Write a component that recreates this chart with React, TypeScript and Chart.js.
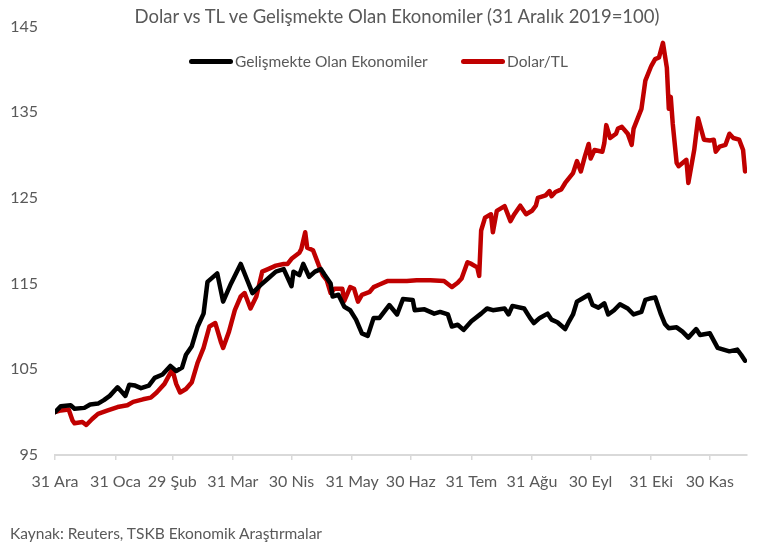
import React, { useEffect, useRef } from "react";
import { Chart, registerables } from "chart.js";

Chart.register(...registerables);

// X axis: day offsets from 31 Dec 2019 for month-end ticks
const monthEndDays = [0, 31, 60, 91, 121, 152, 182, 213, 244, 274, 305, 335];
const monthLabels = ["31 Ara", "31 Oca", "29 Şub", "31 Mar", "30 Nis", "31 May", "30 Haz", "31 Tem", "31 Ağu", "30 Eyl", "31 Eki", "30 Kas"];
const yTickValues = [95, 105, 115, 125, 135, 145];

const chartTitle = "Dolar vs TL ve Gelişmekte Olan Ekonomiler (31 Aralık 2019=100)";
const seriesNames = ["Gelişmekte Olan Ekonomiler", "Dolar/TL"];
const sourceText = "Kaynak: Reuters, TSKB Ekonomik Araştırmalar";

// Gelişmekte Olan Ekonomiler (day offset, index value)
const emDays = [0, 3, 8, 10, 15, 18, 22, 25, 28, 32, 34, 36, 38, 41, 44, 48, 51, 55, 59, 62, 65, 67, 70, 73, 76, 78, 83, 86, 90, 95, 98, 101, 105, 109, 113, 117, 121, 122, 125, 127, 130, 133, 136, 138, 141, 142, 145, 148, 151, 154, 157, 160, 163, 166, 171, 175, 178, 183, 184, 189, 194, 197, 201, 203, 206, 209, 213, 218, 221, 224, 230, 232, 234, 240, 243, 245, 248, 252, 254, 257, 261, 263, 265, 267, 270, 273, 275, 278, 281, 283, 286, 289, 293, 296, 300, 302, 305, 307, 310, 312, 314, 318, 321, 324, 328, 330, 335, 339, 342, 345, 349, 351, 353];
const emValues = [100.0, 100.7, 100.8, 100.4, 100.5, 100.9, 101.0, 101.4, 101.9, 102.9, 102.4, 101.9, 103.2, 103.1, 102.8, 103.1, 104.0, 104.4, 105.4, 104.8, 105.2, 106.7, 107.7, 110.0, 111.5, 115.2, 116.2, 112.9, 115.0, 117.3, 115.6, 113.9, 114.8, 115.6, 116.4, 116.7, 114.7, 116.4, 116.0, 117.3, 115.8, 116.4, 116.7, 116.0, 115.0, 113.5, 113.7, 112.3, 111.9, 110.8, 109.2, 108.9, 111.0, 111.0, 112.5, 111.4, 113.2, 113.1, 111.9, 112.0, 111.5, 111.7, 111.4, 110.0, 110.2, 109.6, 110.6, 111.5, 112.1, 111.9, 112.1, 111.4, 112.4, 112.1, 111.0, 110.4, 111.0, 111.5, 110.8, 110.5, 109.7, 110.6, 111.4, 112.9, 113.3, 113.7, 112.5, 112.2, 112.7, 111.4, 111.9, 112.6, 112.1, 111.4, 111.7, 113.1, 113.3, 113.4, 111.4, 110.3, 109.8, 109.9, 109.4, 108.7, 109.7, 109.0, 109.2, 107.5, 107.3, 107.1, 107.3, 106.7, 106.0];

// Dolar/TL (day offset, index value)
const usdDays = [0, 3, 7, 9, 10, 14, 16, 19, 22, 27, 32, 37, 40, 45, 49, 52, 56, 60, 62, 64, 67, 70, 73, 76, 79, 82, 85, 86, 89, 92, 95, 97, 100, 103, 106, 109, 113, 117, 119, 121, 125, 126, 128, 129, 132, 135, 137, 139, 141, 143, 147, 148, 151, 153, 155, 157, 161, 163, 166, 170, 175, 180, 185, 192, 199, 203, 206, 208, 211, 213, 216, 217, 218, 220, 223, 224, 226, 230, 233, 235, 238, 241, 244, 246, 247, 251, 253, 254, 256, 259, 261, 265, 267, 269, 271, 273, 274, 276, 280, 281, 282, 284, 287, 288, 290, 293, 295, 296, 300, 302, 305, 307, 309, 311, 313, 314, 315, 316, 318, 319, 323, 324, 327, 329, 332, 335, 337, 338, 340, 343, 345, 347, 350, 352, 353];
const usdValues = [100.0, 100.2, 100.3, 99.0, 98.7, 98.85, 98.5, 99.2, 99.8, 100.2, 100.6, 100.8, 101.2, 101.5, 101.7, 102.3, 103.3, 105.0, 103.3, 102.3, 102.7, 103.5, 105.8, 107.5, 110.0, 110.4, 108.1, 107.5, 109.4, 111.9, 113.5, 113.9, 112.1, 113.5, 116.4, 116.7, 117.1, 117.3, 117.3, 117.9, 118.6, 119.05, 121.0, 119.2, 118.9, 117.1, 116.0, 115.4, 113.9, 114.4, 114.4, 113.0, 114.6, 114.4, 112.9, 113.7, 114.05, 114.6, 114.9, 115.3, 115.3, 115.3, 115.4, 115.4, 115.3, 114.6, 115.1, 115.6, 117.5, 117.3, 116.9, 115.9, 121.2, 122.7, 123.1, 121.0, 123.5, 124.05, 122.3, 123.1, 124.1, 123.1, 123.5, 124.1, 125.0, 125.3, 125.8, 125.2, 125.7, 126.0, 126.75, 127.9, 129.3, 128.1, 129.8, 131.3, 129.6, 130.6, 130.4, 131.4, 133.5, 132.0, 132.5, 133.1, 133.3, 132.5, 131.2, 133.1, 135.4, 138.7, 140.4, 141.2, 141.4, 143.1, 140.2, 135.4, 136.8, 133.7, 129.1, 128.7, 129.45, 126.75, 130.6, 134.3, 131.8, 131.7, 131.8, 130.4, 131.0, 131.2, 132.5, 132.0, 131.8, 130.6, 128.1];

const seriesColors = ["#000000", "#c00000"];
const textColor = "#595959";
const fontFamily = 'Lato, "Noto Sans", sans-serif';

export default function App() {
  const canvasRef = useRef<HTMLCanvasElement | null>(null);

  useEffect(() => {
    if (!canvasRef.current) return;
    const chart = new Chart(canvasRef.current, {
      type: "line",
      data: {
        datasets: [
          {
            label: seriesNames[0],
            data: emDays.map((d, i) => ({ x: d, y: emValues[i] })),
            borderColor: seriesColors[0],
            backgroundColor: seriesColors[0],
            borderWidth: 4.5,
            pointRadius: 0,
            tension: 0,
            borderJoinStyle: "round",
            borderCapStyle: "round",
          },
          {
            label: seriesNames[1],
            data: usdDays.map((d, i) => ({ x: d, y: usdValues[i] })),
            borderColor: seriesColors[1],
            backgroundColor: seriesColors[1],
            borderWidth: 4.5,
            pointRadius: 0,
            tension: 0,
            borderJoinStyle: "round",
            borderCapStyle: "round",
          },
        ],
      },
      options: {
        animation: false,
        responsive: false,
        maintainAspectRatio: false,
        layout: { padding: { top: 22, right: 13, bottom: 52, left: 0 } },
        plugins: {
          legend: { display: false },
          title: { display: false },
          tooltip: { enabled: false },
        },
        scales: {
          x: {
            type: "linear",
            min: 0,
            max: 354,
            afterBuildTicks: (axis: any) => {
              axis.ticks = monthEndDays.map((v) => ({ value: v }));
            },
            afterFit: (axis: any) => {
              axis.height = 40;
            },
            grid: {
              display: true,
              drawOnChartArea: false,
              drawTicks: true,
              tickLength: 5,
              color: "#d9d9d9",
              lineWidth: 1.5,
            },
            border: { display: true, color: "#d9d9d9", width: 2 },
            ticks: {
              autoSkip: false,
              maxRotation: 0,
              minRotation: 0,
              padding: 12,
              color: textColor,
              font: { family: fontFamily, size: 16 },
              callback: (v: any) => {
                const idx = monthEndDays.indexOf(Number(v));
                return idx >= 0 ? monthLabels[idx] : "";
              },
            },
          },
          y: {
            type: "linear",
            min: 95,
            max: 145,
            afterBuildTicks: (axis: any) => {
              axis.ticks = yTickValues.map((v) => ({ value: v }));
            },
            afterFit: (axis: any) => {
              axis.width = 55;
            },
            grid: { display: false, drawTicks: false },
            border: { display: false },
            ticks: {
              padding: 17,
              color: textColor,
              font: { family: fontFamily, size: 16 },
              callback: (v: any) => String(v),
            },
          },
        },
      },
    });
    return () => chart.destroy();
  }, []);

  const textBase: React.CSSProperties = {
    position: "absolute",
    fontFamily,
    color: textColor,
    whiteSpace: "nowrap",
  };

  return (
    <div style={{ position: "absolute", left: 0, top: 0, width: 760, height: 547, background: "#ffffff" }}>
      <canvas ref={canvasRef} width={760} height={547} style={{ position: "absolute", left: 0, top: 0, width: 760, height: 547 }} />
      <div style={{ ...textBase, left: 397, top: 5, transform: "translateX(-50%)", fontSize: 18.5, lineHeight: "22px" }}>{chartTitle}</div>
      <div style={{ position: "absolute", left: 189, top: 59, width: 44, height: 5, borderRadius: 2.5, background: seriesColors[0] }} />
      <div style={{ ...textBase, left: 235, top: 51, fontSize: 15.5, lineHeight: "20px" }}>{seriesNames[0]}</div>
      <div style={{ position: "absolute", left: 461, top: 59, width: 44, height: 5, borderRadius: 2.5, background: seriesColors[1] }} />
      <div style={{ ...textBase, left: 507, top: 51, fontSize: 15.5, lineHeight: "20px" }}>{seriesNames[1]}</div>
      <div style={{ ...textBase, left: 10, top: 523, fontSize: 15.5, lineHeight: "20px" }}>{sourceText}</div>
    </div>
  );
}
